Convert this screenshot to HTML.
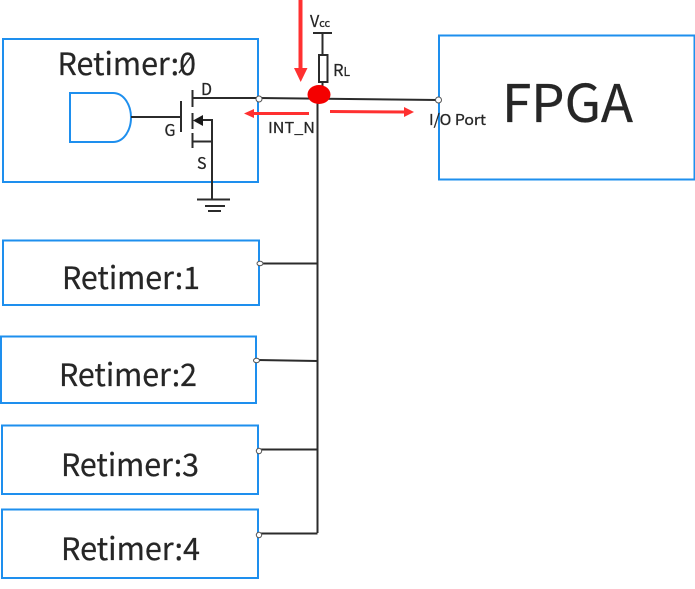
<!DOCTYPE html>
<html>
<head>
<meta charset="utf-8">
<style>
html,body{margin:0;padding:0;background:#fff;width:695px;height:589px;overflow:hidden}
svg{display:block}
text{font-family:"Noto Sans CJK JP","DejaVu Sans","Liberation Sans",sans-serif;fill:#262626;stroke:#262626;stroke-width:.25}
</style>
</head>
<body>
<svg width="695" height="589" viewBox="0 0 695 589" xmlns="http://www.w3.org/2000/svg">
<g fill="#fff" stroke="#1e8fee" stroke-width="2">
<rect x="3" y="39" width="255" height="143"/>
<rect x="3" y="240.500" width="256" height="64.500"/>
<rect x="1" y="336.500" width="255" height="66.500"/>
<rect x="2" y="425.500" width="256" height="68.500"/>
<rect x="2" y="509.500" width="256" height="68.500"/>
<rect x="439" y="35.500" width="255.500" height="144"/>
<path d="M70 93H113C124 93 131 105 131 117.500C131 130 124 142 113 142H70Z"/>
</g>
<g fill="none" stroke="#2b2b2b" stroke-width="2">
<path d="M193 98H259L438 100"/>
<path d="M317.500 98V533"/>
<path d="M260 263.500H317.500M257 360L317.500 361M259 449.500H317.500M259 533.500H317.500"/>
<path d="M131 117H181M181 101V132"/>
<path d="M192.500 90V107M192.500 113V129M192.500 133V148"/>
<path d="M193 141.500H212M200 120H212V200"/>
<path d="M197 199.500H230M205 206H225M208 211H221"/>
<path d="M313 33H332M322.500 33V55M322.500 82V90"/>
<rect x="319" y="55" width="8.500" height="27" fill="#fff"/>
</g>
<path d="M193 120.500L203 115V126Z" fill="#1a1a1a"/>
<g fill="#fff" stroke="#555" stroke-width="1">
<circle cx="259" cy="99" r="3"/>
<circle cx="438.500" cy="100" r="3"/>
<ellipse cx="260" cy="263.500" rx="3" ry="2.200"/>
<ellipse cx="256.500" cy="360.500" rx="3" ry="2.200"/>
<circle cx="259" cy="451" r="2.700"/>
<circle cx="259" cy="535" r="2.700"/>
</g>
<ellipse cx="319" cy="94.500" rx="11.500" ry="9.500" fill="#f40000"/>
<g fill="#ff3030" stroke="none">
<rect x="298.500" y="0" width="4" height="69"/>
<path d="M294 68H307.500L300.700 82Z"/>
<rect x="254" y="112" width="55" height="3"/>
<path d="M244 113.500L254 109V118Z"/>
<path d="M330 110L405 110.500V113.500L330 113Z"/>
<path d="M414 112L404 107V117Z"/>
</g>
<text x="57.500" y="75" font-size="31" textLength="138.500" lengthAdjust="spacingAndGlyphs">Retimer:0</text>
<path d="M179 73L192 55" stroke="#262626" stroke-width="1.500"/>
<text x="62" y="289" font-size="31" textLength="138" lengthAdjust="spacingAndGlyphs">Retimer:1</text>
<text x="59" y="386" font-size="31" textLength="138" lengthAdjust="spacingAndGlyphs">Retimer:2</text>
<text x="61" y="476" font-size="31" textLength="138" lengthAdjust="spacingAndGlyphs">Retimer:3</text>
<text x="61" y="560" font-size="31" textLength="139" lengthAdjust="spacingAndGlyphs">Retimer:4</text>
<text x="502" y="122" font-size="52" textLength="131" lengthAdjust="spacingAndGlyphs">FPGA</text>
<text x="201" y="95" font-size="16">D</text>
<text x="164.500" y="136" font-size="16">G</text>
<text x="197" y="169" font-size="16">S</text>
<text x="310" y="27" font-size="16">V<tspan font-size="11">cc</tspan></text>
<text x="333" y="76" font-size="16.500">R<tspan font-size="12">L</tspan></text>
<text x="268" y="133" font-size="15" textLength="47" lengthAdjust="spacingAndGlyphs">INT_N</text>
<text x="429" y="125" font-size="15" textLength="57" lengthAdjust="spacingAndGlyphs">I/O Port</text>
</svg>
</body>
</html>
